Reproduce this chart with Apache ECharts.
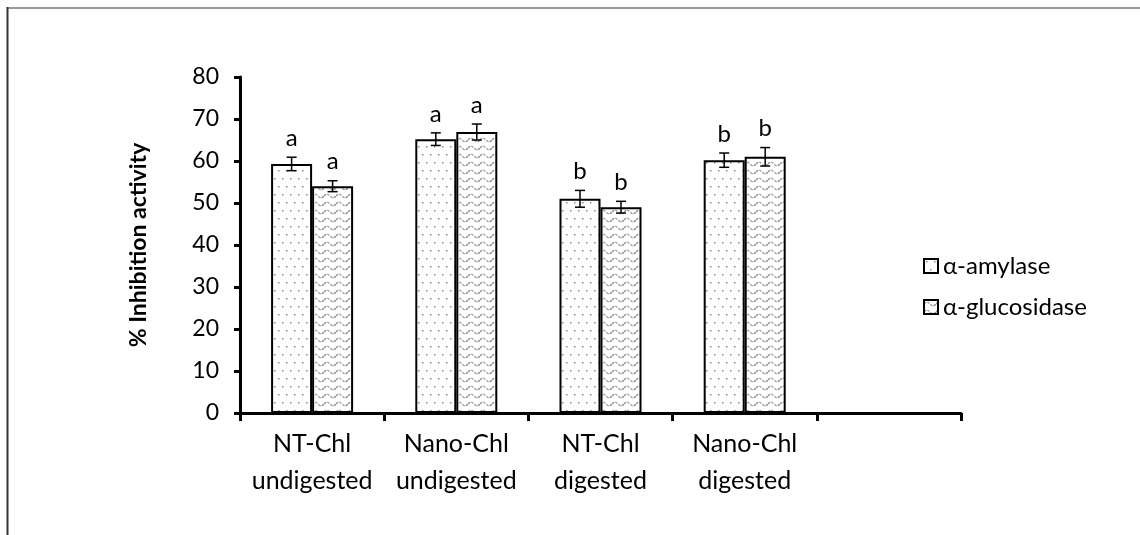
<!DOCTYPE html>
<html>
<head>
<meta charset="utf-8">
<script src="https://cdn.jsdelivr.net/npm/echarts@6/dist/echarts.min.js"></script>
<style>
html,body{margin:0;padding:0;background:#fff;}
#c{width:1140px;height:535px;}
</style>
</head>
<body>
<div id="c"></div>
<script>
// ---- data ----
var categories = ['NT-Chl\nundigested', 'Nano-Chl\nundigested', 'NT-Chl\ndigested', 'Nano-Chl\ndigested', ''];
var seriesNames = ['\u03b1-amylase', '\u03b1-glucosidase'];
var amylase = [59.3, 65.2, 51.0, 60.2];
var amylaseErr = [1.6, 1.5, 2.0, 1.7];
var glucosidase = [54.0, 66.9, 49.0, 61.0];
var glucosidaseErr = [1.3, 1.9, 1.4, 2.2];
var amylaseLetters = ['a', 'a', 'b', 'b'];
var glucosidaseLetters = ['a', 'a', 'b', 'b'];
var yMin = 0, yMax = 80, yInterval = 10;

var FONT = 'Lato, "Open Sans", sans-serif';

// ---- patterns ----
function dotPattern() {
  var c = document.createElement('canvas');
  c.width = 16; c.height = 16;
  var g = c.getContext('2d');
  g.fillStyle = '#ffffff'; g.fillRect(0, 0, 16, 16);
  g.fillStyle = '#8a8a8a';
  g.fillRect(2, 2, 1.5, 1.5);
  g.fillRect(10, 2, 1.5, 1.5);
  g.fillRect(6, 10, 1.5, 1.5);
  g.fillRect(14, 10, 1.5, 1.5);
  return c;
}
function wavePattern() {
  var c = document.createElement('canvas');
  c.width = 12; c.height = 8;
  var g = c.getContext('2d');
  g.fillStyle = '#ffffff'; g.fillRect(0, 0, 12, 8);
  g.strokeStyle = '#8a8a8a';
  g.lineWidth = 1.2;
  g.setLineDash([2.5, 1.2]);
  g.beginPath();
  g.moveTo(0, 4);
  g.quadraticCurveTo(3, 0.5, 6, 4);
  g.quadraticCurveTo(9, 7.5, 12, 4);
  g.stroke();
  return c;
}
var amyColor = { image: dotPattern(), repeat: 'repeat' };
var gluColor = { image: wavePattern(), repeat: 'repeat' };

var BAR_W = 41;

function errData(vals, errs, letters) {
  return vals.map(function (v, i) { return [i, v, errs[i], letters[i]]; });
}

function makeErrRender(offsetSign) {
  return function (params, api) {
    var idx = api.value(0);
    var v = api.value(1);
    var e = api.value(2);
    var c = api.coord([idx, v]);
    var x = c[0] + offsetSign * BAR_W / 2;
    var top = api.coord([idx, v + e])[1];
    var bot = api.coord([idx, v - e])[1];
    var cap = 5;
    var st = { stroke: '#000', lineWidth: 1.5 };
    return {
      type: 'group',
      children: [
        { type: 'line', shape: { x1: x, y1: top, x2: x, y2: bot }, style: st },
        { type: 'line', shape: { x1: x - cap, y1: top, x2: x + cap, y2: top }, style: st },
        { type: 'line', shape: { x1: x - cap, y1: bot, x2: x + cap, y2: bot }, style: st },
        {
          type: 'text',
          style: {
            text: String(api.value(3)), x: x, y: top - 7,
            align: 'center', verticalAlign: 'bottom',
            font: '24px ' + FONT, fill: '#000'
          }
        }
      ]
    };
  };
}

var chart = echarts.init(document.getElementById('c'), null, { renderer: 'canvas' });
var option = {
  backgroundColor: '#fff',
  animation: false,
  graphic: [
    { type: 'line', shape: { x1: 7, y1: 8, x2: 1140, y2: 8 }, style: { stroke: '#9a9a9a', lineWidth: 2 } },
    { type: 'line', shape: { x1: 7.5, y1: 7, x2: 7.5, y2: 535 }, style: { stroke: '#333', lineWidth: 2 } }
  ],
  grid: { left: 240, right: 179, top: 77, bottom: 122, containLabel: false },
  legend: {
    orient: 'vertical',
    left: 918,
    top: 249,
    itemWidth: 14,
    itemHeight: 14,
    itemGap: 17,
    icon: 'rect',
    textStyle: { fontFamily: FONT, fontSize: 24, color: '#000', padding: [0, 0, 0, 0] },
    data: seriesNames
  },
  xAxis: {
    type: 'category',
    data: categories,
    axisLine: { lineStyle: { color: '#000', width: 3 } },
    axisTick: { show: true, alignWithLabel: false, length: 8, lineStyle: { color: '#000', width: 3 } },
    axisLabel: {
      interval: 0, fontFamily: FONT, fontSize: 25, color: '#000',
      lineHeight: 37, margin: 12
    }
  },
  yAxis: {
    type: 'value',
    min: yMin, max: yMax, interval: yInterval,
    name: '% Inhibition activity',
    nameLocation: 'middle',
    nameGap: 90,
    nameTextStyle: { fontFamily: FONT, fontSize: 23, fontWeight: 'bold', color: '#000', padding: [0, 0, 0, 0] },
    splitLine: { show: false },
    axisLine: { show: true, lineStyle: { color: '#000', width: 3 } },
    axisTick: { show: true, length: 6, lineStyle: { color: '#000', width: 3 } },
    axisLabel: { fontFamily: FONT, fontSize: 23, color: '#000', margin: 21 }
  },
  series: [
    {
      name: seriesNames[0], type: 'bar', data: amylase,
      barWidth: BAR_W, barGap: '0%',
      itemStyle: { color: amyColor, borderColor: '#000', borderWidth: 2 }
    },
    {
      name: seriesNames[1], type: 'bar', data: glucosidase,
      barWidth: BAR_W, barGap: '0%',
      itemStyle: { color: gluColor, borderColor: '#000', borderWidth: 2 }
    },
    {
      type: 'custom', name: 'errA', renderItem: makeErrRender(-1),
      data: errData(amylase, amylaseErr, amylaseLetters), z: 5,
      encode: { x: 0, y: 1 }
    },
    {
      type: 'custom', name: 'errG', renderItem: makeErrRender(1),
      data: errData(glucosidase, glucosidaseErr, glucosidaseLetters), z: 5,
      encode: { x: 0, y: 1 }
    }
  ]
};
chart.setOption(option);
</script>
</body>
</html>
